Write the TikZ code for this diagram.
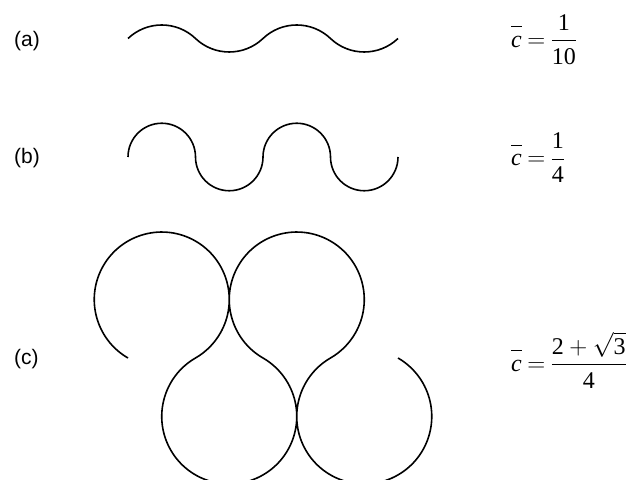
\documentclass[tikz,border=0pt]{standalone}
\usepackage{amsmath}
\usepackage{fontspec}
\setmainfont{Liberation Serif}
\setsansfont{Liberation Sans}
\usepackage{tikz}

\begin{document}
\begin{tikzpicture}[x=1pt,y=1pt,line width=1.6pt]
  \clip (0,0) rectangle (631,479);
  \draw (128,440.5) arc[start angle=133.6,end angle=46.4,radius=48.94] arc[start angle=226.4,end angle=313.6,radius=48.94]
    arc[start angle=133.6,end angle=46.4,radius=48.94] arc[start angle=226.4,end angle=313.6,radius=48.94];
  \draw (128,322) arc[start angle=180,end angle=0,radius=33.75] arc[start angle=180,end angle=360,radius=33.75]
    arc[start angle=180,end angle=0,radius=33.75] arc[start angle=180,end angle=360,radius=33.75];
  \draw (128,121) arc[start angle=240,end angle=-60,radius=67.5] arc[start angle=120,end angle=420,radius=67.5]
    arc[start angle=240,end angle=-60,radius=67.5] arc[start angle=120,end angle=420,radius=67.5];
  \node[anchor=west,font=\sffamily\fontsize{21}{25}\selectfont] (la) at (10,437.5) {(a)};
  \node[anchor=west,font=\sffamily\fontsize{21}{25}\selectfont] (lb) at (10,321) {(b)};
  \node[anchor=west,font=\sffamily\fontsize{21}{25}\selectfont] (lc) at (10,120) {(c)};
  \node[anchor=west,font=\fontsize{24}{29}\selectfont] (ca) at (507,439.5) {$\overline{\vphantom{l}\mathit{c}}\mkern-1mu=\mkern-1mu\dfrac{\mathrm{1}}{\mathrm{10}}$};
  \node[anchor=west,font=\fontsize{24}{29}\selectfont] (cb) at (507,321) {$\overline{\vphantom{l}\mathit{c}}\mkern-1mu=\mkern-1mu\dfrac{\mathrm{1}}{\mathrm{4}}$};
  \node[anchor=west,font=\fontsize{24}{29}\selectfont] (cc) at (507,119) {$\overline{\vphantom{l}\mathit{c}}\mkern-1mu=\mkern-1mu\dfrac{\mathrm{2}+\sqrt{\mathrm{3}}}{\mathrm{4}}$};
\end{tikzpicture}
\end{document}
